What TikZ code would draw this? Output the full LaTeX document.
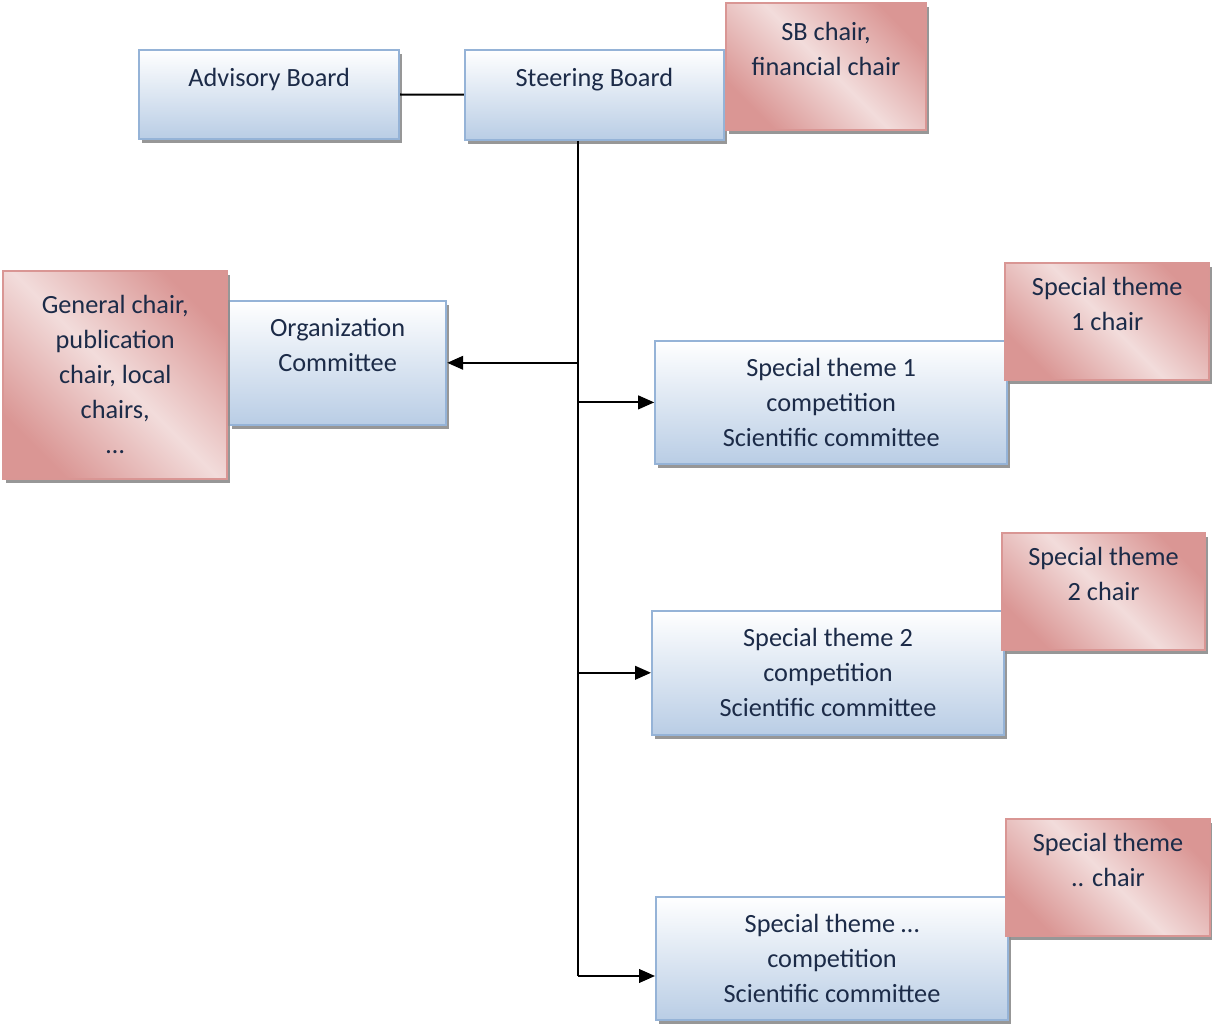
\documentclass[tikz,border=0pt]{standalone}
\usepackage{fontspec}
\setmainfont{Carlito}
\usepackage{tikz}
\usetikzlibrary{positioning,arrows.meta,shadows}

\definecolor{boxline}{HTML}{95B3D7}
\definecolor{boxfill}{HTML}{B9CDE5}
\definecolor{chairline}{HTML}{D99694}
\definecolor{chairdark}{HTML}{DA9694}
\definecolor{chairlight}{HTML}{F2DCDB}
\definecolor{textnavy}{HTML}{1C2B48}

\begin{document}
\begin{tikzpicture}[
  box/.style={draw=boxline, line width=1.4pt, top color=white, bottom color=boxfill, align=center, text=textnavy,
    font=\fontsize{18.7}{24.9}\selectfont, drop shadow={shadow xshift=0.07cm, shadow yshift=-0.1cm, fill=black!45, opacity=0.9}},
  chair/.style={box, draw=chairline, left color=chairdark, right color=chairdark, middle color=chairlight, shading angle=-45},
  arr/.style={-{Triangle[length=0.4cm, width=0.34cm]}, line width=1.5pt},
  link/.style={line width=1.5pt},
]
\useasboundingbox (0,0) rectangle (30.3,25.65);

\node[box] (adv)   at (6.73,23.29) [minimum width=6.5cm, minimum height=2.23cm] {Advisory Board\\\mbox{}};
\node[box] (steer) at (14.86,23.28) [minimum width=6.48cm, minimum height=2.25cm] {Steering Board\\\mbox{}};
\node[box] (org)   at (8.44,16.58) [minimum width=5.43cm, minimum height=3.1cm] {Organization\\Committee\\\mbox{}};

\node[box] (th1) at (20.78,15.59) [minimum width=8.8cm, minimum height=3.08cm] {Special theme 1\\competition\\Scientific committee};
\node[box] (th2) at (20.7,8.83)   [minimum width=8.8cm, minimum height=3.1cm]  {Special theme 2\\competition\\Scientific committee};
\node[box] (thn) at (20.8,1.69)   [minimum width=8.8cm, minimum height=3.08cm] {Special theme …\\competition\\Scientific committee};

\node[chair] (sbchair)  at (20.65,23.99) [minimum width=5cm, minimum height=3.18cm] {SB chair,\\financial chair\\\mbox{}};
\node[chair] (genchair) at (2.88,16.28)  [minimum width=5.6cm, minimum height=5.2cm] {General chair,\\publication\\chair, local\\chairs,\\…};
\node[chair] (th1chair) at (27.68,17.61) [minimum width=5.1cm, minimum height=2.93cm] {Special theme\\1 chair\\\mbox{}};
\node[chair] (th2chair) at (27.59,10.86) [minimum width=5.08cm, minimum height=2.93cm] {Special theme\\2 chair\\\mbox{}};
\node[chair] (thnchair) at (27.7,3.71)   [minimum width=5.1cm, minimum height=2.93cm] {Special theme\\.. chair\\\mbox{}};

\coordinate (bus) at (14.45,1.25);

\draw[link] (adv) -- (steer);
\draw[link] (steer.south -| bus) -- (bus);
\draw[arr] (org.east -| bus) -- (org.east);
\draw[arr] (th1.west -| bus) -- (th1.west);
\draw[arr] (th2.west -| bus) -- (th2.west);
\draw[arr] (bus) -- (bus -| thn.west);
\end{tikzpicture}
\end{document}
